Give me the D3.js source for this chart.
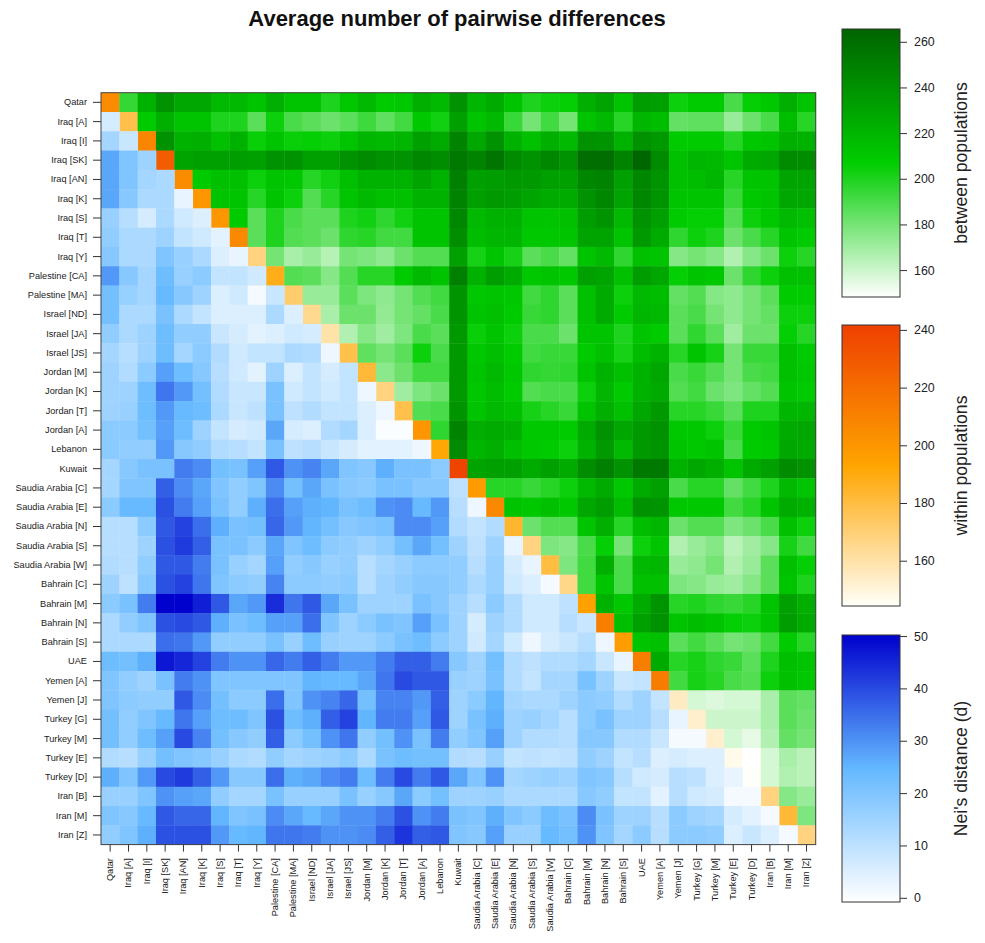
<!DOCTYPE html>
<html>
<head>
<meta charset="utf-8">
<script src="https://cdn.jsdelivr.net/npm/d3@7"></script>
<style>
body{margin:0;background:#fff;}
text{font-family:"Liberation Sans",Arial,sans-serif;fill:#222;}
</style>
</head>
<body>
<svg id="chart" width="985" height="943"></svg>
<script>
var pops = ["Qatar","Iraq [A]","Iraq [I]","Iraq [SK]","Iraq [AN]","Iraq [K]","Iraq [S]","Iraq [T]","Iraq [Y]",
	"Palestine [CA]","Palestine [MA]","Israel [ND]","Israel [JA]","Israel [JS]",
	"Jordan [M]","Jordan [K]","Jordan [T]","Jordan [A]","Lebanon","Kuwait",
	"Saudia Arabia [C]","Saudia Arabia [E]","Saudia Arabia [N]","Saudia Arabia [S]","Saudia Arabia [W]",
	"Bahrain [C]","Bahrain [M]","Bahrain [N]","Bahrain [S]","UAE","Yemen [A]","Yemen [J]",
	"Turkey [G]","Turkey [M]","Turkey [E]","Turkey [D]","Iran [B]","Iran [M]","Iran [Z]"];

// diagonal
var within = [205,178,208,228,205,200,200,207,168,188,172,165,160,178,182,168,178,200,192,240,
	198,207,184,168,180,166,195,212,197,212,213,155,153,153,147,144,168,182,168];

// upper triangle, row i holds columns i+1 .. 38
var between = [
	[195,222,240,228,228,218,218,212,224,212,212,200,210,218,208,210,224,218,240,220,226,212,200,204,206,224,230,212,234,232,204,208,208,190,206,210,224,212],
	[208,224,212,212,200,200,186,204,190,186,182,186,193,185,192,210,203,232,212,218,194,180,192,180,212,218,198,220,216,184,185,185,172,182,190,216,198],
	[240,222,224,214,222,205,212,205,206,204,212,220,218,220,232,226,248,228,240,222,214,224,218,240,238,222,240,236,208,208,208,198,210,212,224,222],
	[230,232,232,234,232,240,240,232,232,240,244,240,240,246,242,254,248,256,244,240,246,240,260,260,248,264,244,214,220,218,212,226,228,244,242],
	[208,214,214,204,212,210,198,203,215,222,222,222,230,222,250,232,234,236,236,232,232,246,248,232,246,238,214,216,220,198,212,212,230,230],
	[212,212,198,212,204,188,198,212,218,214,214,222,222,248,232,236,234,230,226,226,240,246,230,246,238,212,212,212,194,210,212,228,228],
	[208,186,200,190,186,186,200,203,196,203,212,212,246,218,222,222,212,212,214,234,238,218,240,232,208,206,206,188,204,210,218,214],
	[186,200,188,186,182,196,198,192,192,212,212,242,216,220,220,210,210,212,230,230,212,236,226,196,204,200,182,190,198,212,208],
	[180,168,172,165,180,178,174,182,188,188,232,202,212,202,186,190,184,212,218,196,214,212,176,180,176,166,176,182,204,198],
	[188,186,176,188,198,198,208,218,212,250,222,234,226,210,212,210,232,230,214,234,228,206,212,210,182,196,204,214,214],
	[172,172,186,178,174,180,188,192,238,210,212,210,192,196,186,214,226,204,218,216,184,188,176,174,180,186,208,208],
	[168,182,182,173,180,184,190,238,212,214,208,194,196,186,214,226,208,220,218,186,190,180,174,180,184,204,204],
	[166,176,170,178,190,186,236,205,212,204,190,190,182,212,212,200,212,208,186,196,186,170,182,182,206,198],
	[185,180,186,204,190,236,210,215,208,192,194,194,208,214,202,216,222,198,212,202,180,194,194,214,208],
	[175,182,192,192,236,212,218,210,196,195,196,212,222,214,222,228,190,194,188,180,190,192,214,210],
	[170,178,182,236,210,216,208,188,190,190,204,220,208,222,226,188,192,182,178,184,188,212,208],
	[188,190,238,212,218,214,202,198,194,212,224,214,228,236,198,198,194,186,200,200,220,220],
	[196,248,224,226,224,210,210,208,226,240,228,236,240,210,210,204,194,208,212,226,228],
	[244,220,224,215,210,208,204,222,236,218,236,238,212,210,212,190,208,210,228,226],
	[230,232,232,226,232,226,242,250,240,254,254,222,228,224,212,226,232,244,240],
	[198,198,194,198,204,218,226,210,226,232,190,198,198,184,192,200,218,212],
	[212,210,214,210,228,234,216,240,238,210,210,210,192,198,212,226,222],
	[182,188,188,212,224,198,216,220,182,188,188,178,182,190,214,204],
	[178,176,190,206,180,204,212,166,172,176,164,170,176,202,192],
	[178,192,224,190,218,220,172,174,180,166,172,186,214,206],
	[192,212,190,214,214,178,176,172,170,176,186,212,200],
	[222,210,226,238,198,200,196,194,198,212,232,224],
	[215,232,240,212,216,212,206,204,212,234,226],
	[212,214,186,192,186,180,182,192,208,198],
	[226,198,202,196,194,186,200,215,212],
	[192,202,198,190,188,204,214,210],
	[158,156,158,158,168,186,184],
	[160,160,160,168,186,182],
	[158,154,166,184,180],
	[148,158,168,164],
	[158,166,164],
	[176,172],
	[178]
];

// lower triangle, row i holds columns 0 .. i-1
var distance = [
	[],
	[6],
	[14,8],
	[27,20,15],
	[27,20,14,13],
	[27,19,13,13,3],
	[16,11,6,13,7,5],
	[17,13,13,15,9,7,4],
	[19,13,13,20,16,13,5,3],
	[29,19,14,23,16,18,9,9,7],
	[22,16,14,24,19,15,5,7,1,8],
	[22,13,13,21,13,9,5,5,5,13,5],
	[17,13,15,23,17,17,8,6,4,5,7,6],
	[14,11,15,23,14,18,12,7,9,9,13,12,2],
	[15,12,18,28,23,19,11,7,4,15,5,9,6,9],
	[15,15,23,34,29,22,12,8,8,21,7,9,7,9,2],
	[15,16,23,29,24,23,13,8,10,21,10,12,9,9,5,2],
	[18,18,22,28,23,15,9,6,7,27,6,5,12,14,5,0,0],
	[18,17,17,29,19,17,12,11,9,21,10,11,8,6,4,4,4,2],
	[14,19,21,21,33,31,22,21,28,38,30,32,27,20,19,26,21,21,18],
	[14,20,20,37,31,27,20,17,20,31,22,27,21,19,18,21,21,19,19,10],
	[18,24,24,39,33,28,21,17,26,35,28,26,25,21,23,30,31,24,29,11,2],
	[11,11,18,38,41,35,26,21,22,36,29,25,22,19,20,21,31,31,28,12,9,12],
	[11,11,15,39,42,37,21,21,18,27,20,23,18,17,15,17,22,27,22,15,10,15,3],
	[12,11,17,38,38,33,21,16,14,28,17,19,16,17,11,14,16,18,18,17,11,16,6,3],
	[15,10,19,39,41,34,20,18,17,32,18,18,17,18,11,15,17,19,19,17,13,16,7,5,1],
	[18,21,33,50,50,46,38,27,29,44,34,38,27,21,15,15,15,21,19,15,11,18,12,7,7,10],
	[13,17,20,39,40,38,26,21,23,28,28,35,20,15,18,21,20,28,21,15,6,15,12,7,7,11,8],
	[13,13,13,35,34,29,17,17,17,21,16,23,16,15,15,18,21,23,18,15,7,14,7,2,6,8,11,2],
	[23,22,26,47,45,41,33,30,30,36,33,37,33,29,29,33,37,37,33,19,15,22,12,10,12,12,14,8,3],
	[20,17,15,21,33,30,20,20,20,20,20,25,24,24,27,34,40,38,38,16,15,21,12,9,14,14,21,15,8,9],
	[20,18,17,17,38,31,22,18,18,35,20,30,32,36,22,32,32,29,37,15,18,25,14,13,13,15,18,17,12,15,9],
	[22,17,20,24,34,28,23,23,20,39,23,26,37,41,25,33,33,28,38,15,21,26,15,16,14,11,18,21,15,15,11,3],
	[22,17,23,28,40,32,22,19,17,37,18,22,30,34,17,22,30,21,33,17,20,28,15,12,12,11,19,19,12,12,8,1,1],
	[12,11,16,22,20,19,16,13,12,17,14,15,16,18,13,21,23,22,22,12,11,16,9,10,9,10,17,15,9,11,5,6,5,5],
	[26,20,29,40,42,37,29,19,19,35,26,27,31,33,23,33,40,33,38,27,20,30,14,15,16,15,20,19,11,7,6,11,10,5,3],
	[16,16,20,30,28,27,17,14,14,21,16,16,16,21,16,19,27,18,22,15,15,16,13,13,13,13,19,17,9,9,4,11,7,6,1,1],
	[20,19,24,38,36,36,25,20,21,31,27,24,27,30,30,33,39,30,33,21,20,26,20,18,23,21,31,21,15,15,11,18,15,14,6,4,1],
	[17,20,26,39,39,39,29,24,25,34,34,33,30,30,31,37,43,37,38,20,19,28,16,16,24,22,30,20,14,18,11,18,18,17,5,8,5,1]
];

var betweenTicks = [160,180,200,220,240,260];
var withinTicks = [160,180,200,220,240];
var distanceTicks = [0,10,20,30,40,50];

var svg = d3.select("#chart");

var left = 101, right = 815.7, top_y = 92.7, bottom = 844.6;

var x = d3.scaleBand().domain(d3.range(pops.length)).range([left,right]);
var y = d3.scaleBand().domain(d3.range(pops.length)).range([top_y,bottom]);

var color_between = d3.scaleLinear().domain([148.2,207,265.6]).range(["#ffffff","#00cd00","#006400"]);
var color_within = d3.scaleLinear().domain([144.3,193,241.7]).range(["#fffff8","#ffa500","#ee4000"]);
var color_distance = d3.scaleLinear().domain([-0.8,24.7,50.2]).range(["#ffffff","#63b8ff","#0000cd"]);

// flatten to one cell per matrix position
var cells = [];
pops.forEach(function(p,i){
	cells.push({r:i,c:i,fill:color_within(within[i])});
	distance[i].forEach(function(v,j){
		cells.push({r:i,c:j,fill:color_distance(v)});
	});
	if(between[i]){
		between[i].forEach(function(v,j){
			cells.push({r:i,c:i+1+j,fill:color_between(v)});
		});
	}
});

svg.append("g").selectAll("rect")
	.data(cells)
	.enter().append("rect")
	.attr("x",function(d){ return x(d.c); })
	.attr("y",function(d){ return y(d.r); })
	.attr("width",x.bandwidth()+0.4)
	.attr("height",y.bandwidth()+0.4)
	.style("fill",function(d){ return d.fill; });

svg.append("rect")
	.attr("x",left).attr("y",top_y)
	.attr("width",right-left).attr("height",bottom-top_y)
	.style("fill","none").style("stroke","#444").style("stroke-width",1);

var yAxis = d3.axisLeft(y).tickSize(8).tickPadding(6).tickFormat(function(i){ return pops[i]; });
var gy = svg.append("g").attr("transform","translate("+left+",0)").call(yAxis);
gy.select(".domain").remove();
gy.selectAll("line").style("stroke","#333");
gy.selectAll("text").style("font-size","9.2px").style("fill","#222");

var xAxis = d3.axisBottom(x).tickSize(7).tickFormat(function(i){ return pops[i]; });
var gx = svg.append("g").attr("transform","translate(0,"+bottom+")").call(xAxis);
gx.select(".domain").remove();
gx.selectAll("line").style("stroke","#333");
gx.selectAll("text")
	.attr("transform","rotate(-90)")
	.attr("x",-13.5).attr("y",0).attr("dy","0.32em")
	.style("text-anchor","end")
	.style("font-size","9.2px").style("fill","#222");

svg.append("text")
	.attr("x",457).attr("y",26)
	.style("text-anchor","middle")
	.style("font-size","22px").style("font-weight","bold").style("fill","#111")
	.text("Average number of pairwise differences");

function colorbar(id,color,ticks,y0,y1,label){
	var dom = color.domain();
	var s = d3.scaleLinear().domain([dom[0],dom[2]]).range([y1,y0]);
	var grad = svg.append("linearGradient")
		.attr("id",id).attr("x1",0).attr("y1",1).attr("x2",0).attr("y2",0);
	dom.forEach(function(v,i){
		grad.append("stop")
			.attr("offset",(i*50)+"%")
			.attr("stop-color",color(v));
	});
	svg.append("rect")
		.attr("x",842).attr("y",y0)
		.attr("width",58).attr("height",y1-y0)
		.style("fill","url(#"+id+")")
		.style("stroke","#333").style("stroke-width",1);
	var g = svg.append("g").attr("transform","translate(900,0)")
		.call(d3.axisRight(s).tickValues(ticks).tickSize(7).tickPadding(7));
	g.select(".domain").remove();
	g.selectAll("line").style("stroke","#333");
	g.selectAll("text").style("font-size","12.4px").style("fill","#222");
	svg.append("text")
		.attr("transform","translate(967,"+((y0+y1)/2)+") rotate(-90)")
		.style("text-anchor","middle")
		.style("font-size","17.6px").style("fill","#222")
		.text(label);
}

colorbar("grad_between",color_between,betweenTicks,29,297,"between populations");
colorbar("grad_within",color_within,withinTicks,325,606,"within populations");
colorbar("grad_distance",color_distance,distanceTicks,635,902,"Nei's distance (d)");
</script>
</body>
</html>
